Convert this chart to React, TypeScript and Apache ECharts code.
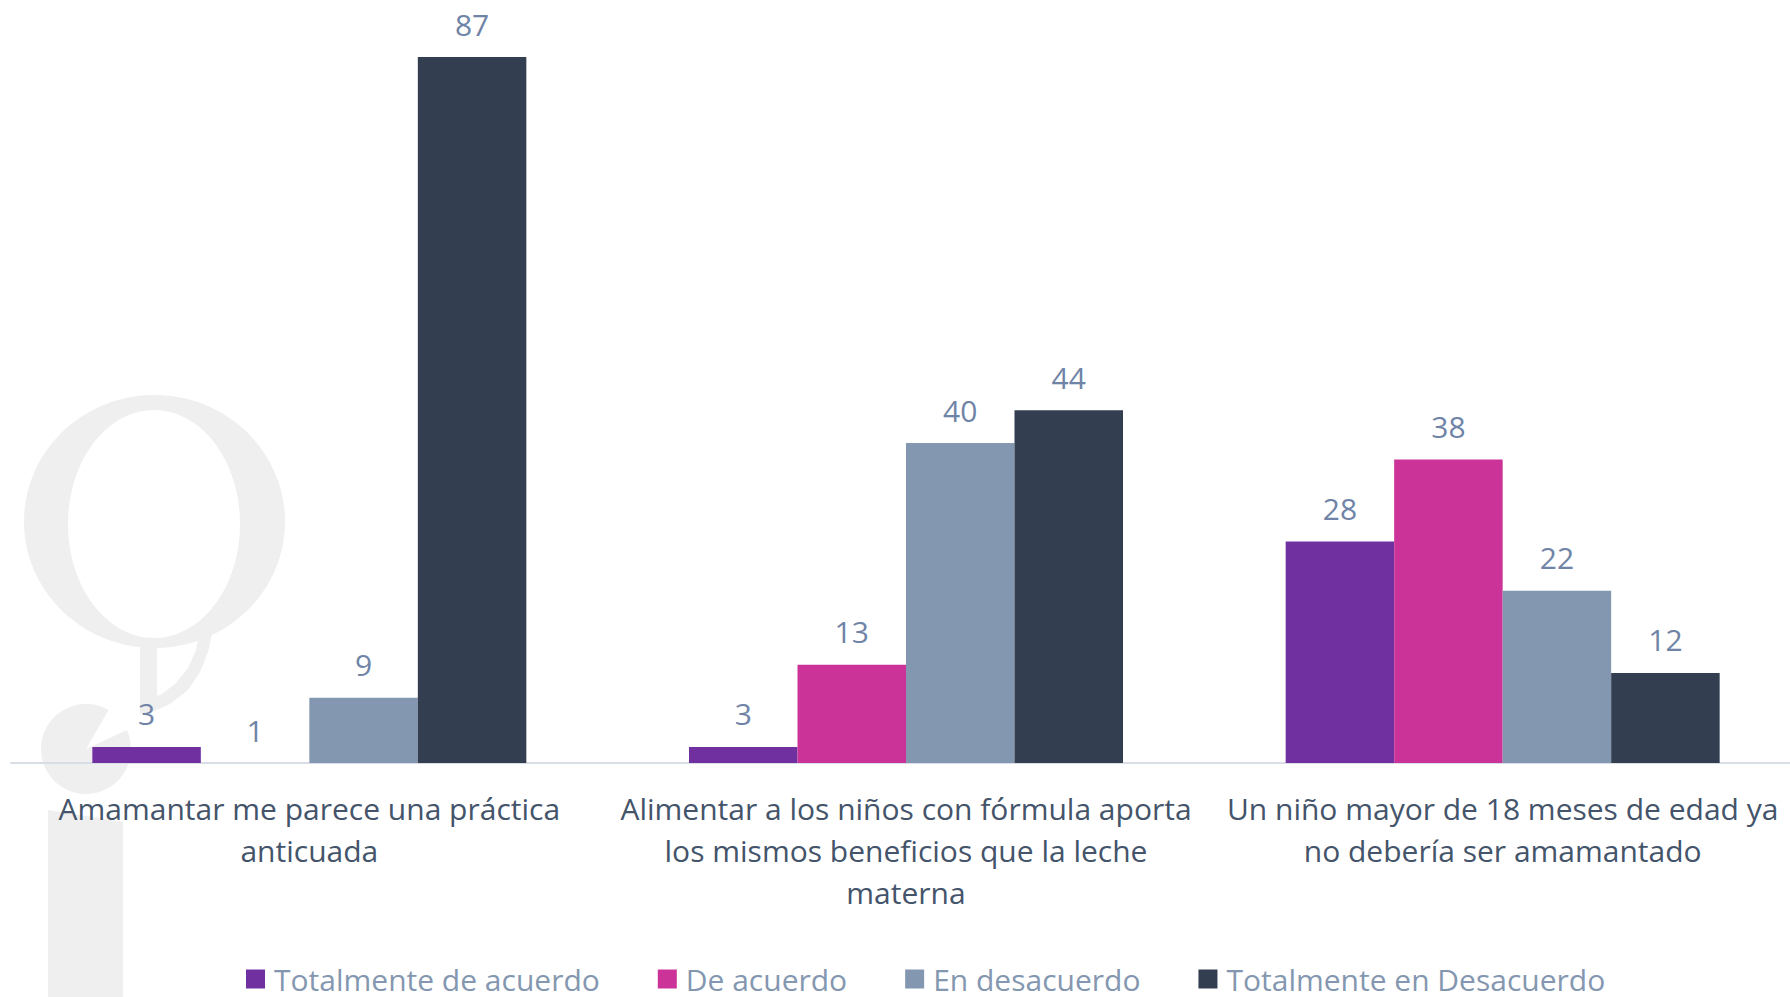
import React, { useEffect, useRef } from "react";
import * as echarts from "echarts";

const categories = [
  "Amamantar me parece una práctica\nanticuada",
  "Alimentar a los niños con fórmula aporta\nlos mismos beneficios que la leche\nmaterna",
  "Un niño mayor de 18 meses de edad ya\nno debería ser amamantado",
];
const seriesNames = [
  "Totalmente de acuerdo",
  "De acuerdo",
  "En desacuerdo",
  "Totalmente en Desacuerdo",
];
const totalmenteDeAcuerdo = [3, 3, 28];
const deAcuerdo = [1, 13, 38];
const enDesacuerdo = [9, 40, 22];
const totalmenteEnDesacuerdo = [87, 44, 12];
const seriesColors = ["#7030A0", "#CC3399", "#8497B0", "#333F50"];

const FONT = "'Open Sans', 'Noto Sans', sans-serif";
const WM = "#efefef";

export default function App() {
  const ref = useRef<HTMLDivElement>(null);

  useEffect(() => {
    if (!ref.current) return;
    const chart = echarts.init(ref.current, null, { renderer: "svg" });
    const values = [totalmenteDeAcuerdo, deAcuerdo, enDesacuerdo, totalmenteEnDesacuerdo];
    const deg = Math.PI / 180;

    chart.setOption({
      animation: false,
      backgroundColor: "#ffffff",
      textStyle: { fontFamily: FONT },
      graphic: [
        { type: "ellipse", z: -10, silent: true, shape: { cx: 154.5, cy: 521.5, rx: 130.5, ry: 126.5 }, style: { fill: WM } },
        {
          type: "polygon", z: -10, silent: true,
          shape: {
            points: [
              [140, 630], [140, 714], [152, 712], [170, 704], [188, 690], [200, 672],
              [208, 652], [214, 625], [200, 630], [196, 650], [188, 668], [176, 683],
              [162, 694], [157, 696], [157, 630],
            ],
          },
          style: { fill: WM },
        },
        { type: "ellipse", z: -9, silent: true, shape: { cx: 154, cy: 524, rx: 86, ry: 114 }, style: { fill: "#ffffff" } },
        {
          type: "sector", z: -10, silent: true,
          shape: { cx: 86, cy: 749, r: 45, r0: 0, startAngle: -25 * deg, endAngle: 300 * deg, clockwise: true },
          style: { fill: WM },
        },
        {
          type: "polygon", z: -10, silent: true,
          shape: { points: [[48, 810], [123, 822], [123, 997], [48, 997]] },
          style: { fill: WM },
        },
      ],
      grid: { left: 11, width: 1790, top: 32.4, bottom: 234, containLabel: false, outerBoundsMode: "none" },
      legend: {
        data: seriesNames,
        left: 246,
        top: 964,
        padding: 0,
        icon: "rect",
        itemWidth: 19,
        itemHeight: 19,
        itemGap: 58,
        textStyle: { fontFamily: FONT, fontSize: 30, color: "#8497B0", lineHeight: 30, padding: [0, 0, 0, 4] },
      },
      xAxis: {
        type: "category",
        data: categories,
        axisTick: { show: false },
        axisLine: { show: true, lineStyle: { color: "#D9DEE6", width: 2 } },
        axisLabel: {
          interval: 0,
          margin: 24,
          fontFamily: FONT,
          fontSize: 30,
          lineHeight: 42,
          color: "#44546A",
          align: "center",
        },
      },
      yAxis: {
        type: "value",
        min: 1.04,
        max: 90,
        startValue: 1.04,
        show: false,
        splitLine: { show: false },
      },
      series: values.map((arr, i) => ({
        name: seriesNames[i],
        type: "bar",
        data: arr,
        barWidth: 108.5,
        barGap: "0%",
        clip: true,
        itemStyle: { color: seriesColors[i] },
        label: {
          show: true,
          position: "top",
          distance: 18,
          fontFamily: FONT,
          fontSize: 30,
          color: "#6F84A6",
        },
      })),
    });

    return () => chart.dispose();
  }, []);

  return (
    <div
      ref={ref}
      style={{ position: "fixed", left: 0, top: 0, width: 1790, height: 997 }}
    />
  );
}
